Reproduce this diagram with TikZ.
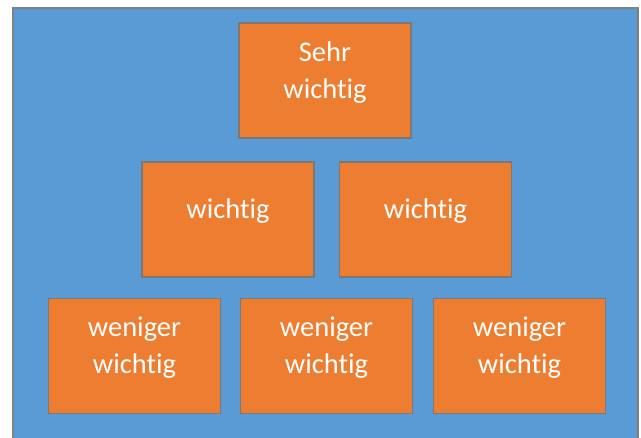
\documentclass[tikz,border=0pt]{standalone}
\usepackage{fontspec}
\setmainfont{Carlito}[RawFeature={-liga;-clig;-dlig}]
\definecolor{bgblue}{RGB}{91,155,213}
\definecolor{boxorange}{RGB}{237,125,49}
\definecolor{edgegray}{RGB}{128,128,128}
\definecolor{boxedge}{RGB}{125,120,115}
\tikzset{
  x=1pt, y=1pt,
  box/.style={draw=boxedge, line width=1.6pt, fill=boxorange, minimum width=172pt, minimum height=115pt, inner sep=0pt},
  txt/.style={text=white, align=center, font=\fontsize{28.5}{37}\selectfont, yshift=8pt},
}
\begin{document}
\begin{tikzpicture}
\useasboundingbox (0,0) rectangle (641,-438);
\clip (0,0) rectangle (641,-438);
\node[draw=edgegray, line width=2pt, fill=bgblue, minimum width=625pt, minimum height=450pt, inner sep=0pt, anchor=north west] (bg) at (12,-7) {};
\node[box] (top) at (325,-80.5) {};
\node[txt] (toptext) at (top.center) {Sehr\\wichtig};
\node[box] (m1) at (228,-219.5) {};
\node[txt] (m1text) at (m1.center) {wichtig};
\node[box] (m2) at (425.5,-219.5) {};
\node[txt] (m2text) at (m2.center) {wichtig};
\node[box] (b1) at (134.5,-356) {};
\node[txt] (b1text) at (b1.center) {weniger\\wichtig};
\node[box] (b2) at (326.5,-356) {};
\node[txt] (b2text) at (b2.center) {weniger\\wichtig};
\node[box] (b3) at (519.5,-356) {};
\node[txt] (b3text) at (b3.center) {weniger\\wichtig};
\end{tikzpicture}
\end{document}
